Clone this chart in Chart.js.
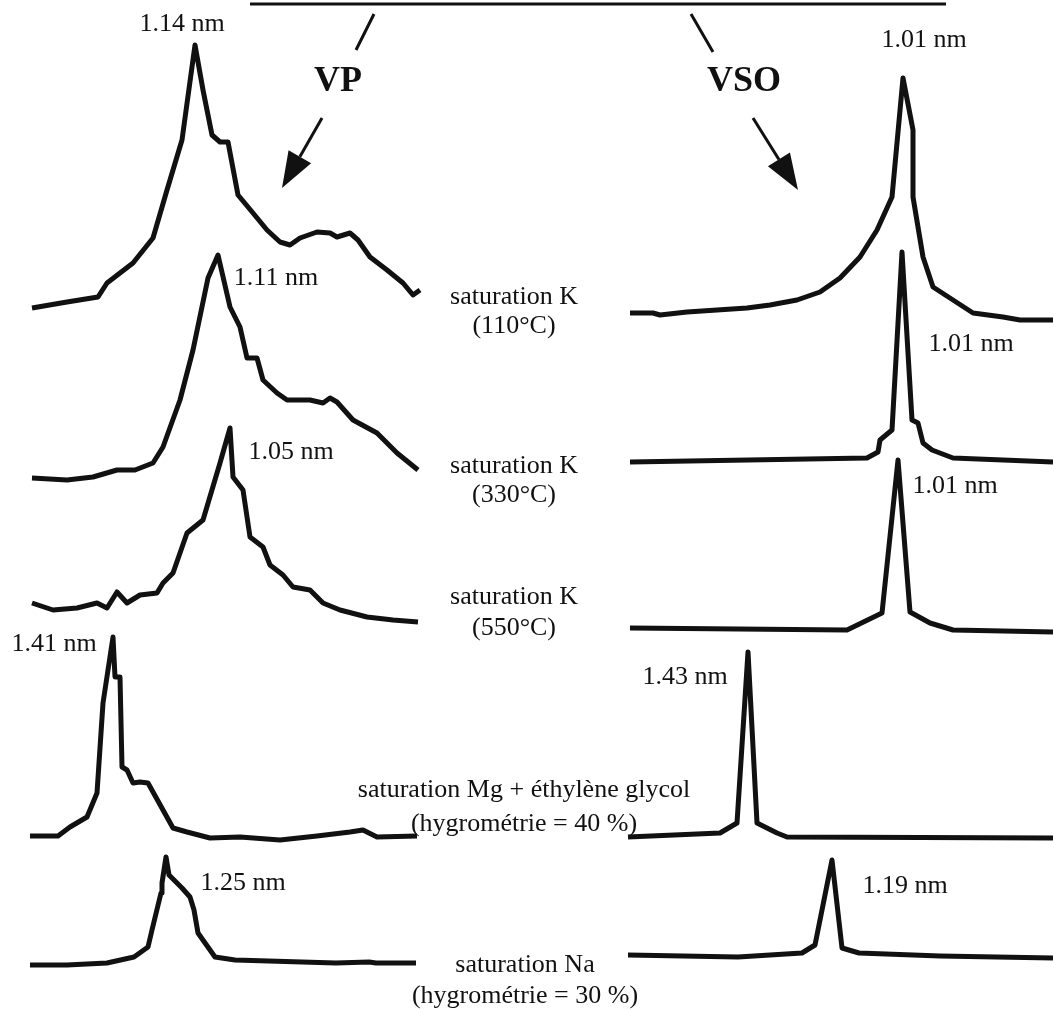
<!DOCTYPE html>
<html>
<head>
<meta charset="utf-8">
<script src="https://cdn.jsdelivr.net/npm/chart.js@4/dist/chart.umd.min.js"></script>
<style>
  html, body { margin: 0; padding: 0; background: #fff; }
  #wrap { position: relative; width: 1053px; height: 1009px; }
</style>
</head>
<body>
<div id="wrap"><canvas id="xrd"></canvas></div>
<script>
// values: 2theta (deg) and intensity above each baseline (a.u.)
// VP column
var vpK110X = [4.04, 4.74, 5.36, 5.54, 6.06, 6.46, 6.74, 7.04, 7.30, 7.46, 7.64, 7.80, 7.96, 8.16, 8.46, 8.74, 9.00, 9.20, 9.40, 9.74, 10.00, 10.14, 10.40, 10.56, 10.80, 11.14, 11.46, 11.66, 11.80];
var vpK110Y = [0, 6, 11, 25, 45, 70, 118, 168, 263, 218, 173, 166, 166, 113, 95, 78, 66, 63, 70, 76, 75, 71, 75, 68, 51, 38, 25, 13, 18];

var vpK330X = [4.04, 4.74, 5.26, 5.74, 6.10, 6.46, 6.66, 7.00, 7.26, 7.56, 7.76, 8.00, 8.20, 8.34, 8.54, 8.66, 8.94, 9.14, 9.60, 9.86, 10.00, 10.14, 10.46, 10.94, 11.34, 11.76];
var vpK330Y = [0, -2, 1, 8, 8, 15, 31, 78, 128, 200, 223, 171, 151, 120, 120, 98, 85, 78, 78, 75, 80, 76, 58, 45, 25, 8];

var vpK550X = [4.04, 4.46, 4.94, 5.34, 5.54, 5.74, 5.94, 6.20, 6.54, 6.66, 6.86, 7.14, 7.46, 7.80, 8.00, 8.06, 8.26, 8.40, 8.66, 8.80, 9.06, 9.26, 9.60, 9.86, 10.20, 10.74, 11.26, 11.76];
var vpK550Y = [0, -7, -5, 0, -5, 11, 0, 8, 10, 20, 30, 70, 83, 140, 175, 126, 113, 66, 56, 38, 28, 16, 13, 0, -7, -14, -17, -19];

var vpMgX = [4.00, 4.56, 4.80, 5.14, 5.34, 5.46, 5.66, 5.70, 5.80, 5.84, 5.94, 6.06, 6.20, 6.36, 6.86, 7.14, 7.60, 8.20, 9.00, 9.74, 10.40, 10.66, 10.94, 11.74];
var vpMgY = [0, 0, 9, 19, 43, 133, 199, 159, 159, 69, 66, 53, 54, 53, 8, 4, -2, -1, -4, 0, 4, 6, -1, 0];

var vpNaX = [4.00, 4.74, 5.54, 6.08, 6.36, 6.44, 6.62, 6.64, 6.72, 6.78, 7.04, 7.20, 7.28, 7.36, 7.70, 8.10, 9.44, 10.12, 10.78, 10.92, 11.72];
var vpNaY = [-2, -2, 0, 6, 16, 33, 70, 80, 106, 88, 75, 66, 53, 30, 6, 3, 1, 0, 1, 0, 0];

// VSO column
var vsoK110X = [4.04, 4.50, 4.64, 5.18, 6.38, 6.84, 7.38, 7.84, 8.24, 8.64, 8.98, 9.28, 9.50, 9.70, 9.70, 9.90, 10.10, 10.90, 11.50, 11.84, 12.50];
var vsoK110Y = [0, 0, -2, 1, 5, 8, 13, 21, 35, 56, 83, 116, 235, 183, 116, 56, 26, 0, -4, -7, -7];

var vsoK330X = [4.04, 8.78, 9.00, 9.04, 9.28, 9.48, 9.68, 9.80, 9.90, 10.08, 10.50, 12.50];
var vsoK330Y = [0, 4, 10, 22, 32, 210, 42, 39, 19, 12, 4, 0];

var vsoK550X = [4.04, 8.38, 9.08, 9.40, 9.64, 10.04, 10.50, 12.50];
var vsoK550Y = [2, 0, 17, 170, 18, 7, 0, -2];

var vsoMgX = [4.00, 5.84, 6.18, 6.40, 6.58, 6.98, 7.18, 12.50];
var vsoMgY = [0, 4, 14, 185, 14, 4, 0, -1];

var vsoNaX = [4.00, 6.20, 7.48, 7.74, 8.08, 8.28, 8.62, 10.24, 12.50];
var vsoNaY = [1, -1, 3, 11, 96, 8, 3, 0, -2];

var peakLabels = ["1.14 nm", "1.11 nm", "1.05 nm", "1.41 nm", "1.25 nm",
                  "1.01 nm", "1.01 nm", "1.01 nm", "1.43 nm", "1.19 nm"];
var treatments = [
  ["saturation K", "(110°C)"],
  ["saturation K", "(330°C)"],
  ["saturation K", "(550°C)"],
  ["saturation Mg + éthylène glycol", "(hygrométrie = 40 %)"],
  ["saturation Na", "(hygrométrie = 30 %)"]
];

// stacking offsets of each diffractogram and where the text goes (pixels)
var vpOffsets = [701, 531, 406, 173, 46];
var vsoOffsets = [696, 547, 379, 172, 53];
var labelShift = [[-13, -21], [58, 23], [61, 24], [-59, 7], [77, 26],
                  [21, -38], [69, 92], [57, 26], [-63, 25], [73, 26]];
var treatmentPos = [[514, 297, 326], [514, 466, 495], [514, 597, 628], [524, 790, 824], [525, 965, 996]];

var serif = '"Liberation Serif", "DejaVu Serif", serif';

function trace(xs, ys, offset, axis) {
  return {
    data: xs.map(function (x, i) { return { x: x, y: ys[i] + offset }; }),
    xAxisID: axis,
    yAxisID: "y",
    borderColor: "#111",
    borderWidth: 5,
    borderJoinStyle: "round",
    borderCapStyle: "butt",
    pointRadius: 0,
    tension: 0,
    fill: false
  };
}

var datasets = [
  trace(vpK110X, vpK110Y, vpOffsets[0], "xL"),
  trace(vpK330X, vpK330Y, vpOffsets[1], "xL"),
  trace(vpK550X, vpK550Y, vpOffsets[2], "xL"),
  trace(vpMgX, vpMgY, vpOffsets[3], "xL"),
  trace(vpNaX, vpNaY, vpOffsets[4], "xL"),
  trace(vsoK110X, vsoK110Y, vsoOffsets[0], "xR"),
  trace(vsoK330X, vsoK330Y, vsoOffsets[1], "xR"),
  trace(vsoK550X, vsoK550Y, vsoOffsets[2], "xR"),
  trace(vsoMgX, vsoMgY, vsoOffsets[3], "xR"),
  trace(vsoNaX, vsoNaY, vsoOffsets[4], "xR")
];

function arrow(ctx, x1, y1, x2, y2, head, half) {
  var dx = x2 - x1, dy = y2 - y1, len = Math.sqrt(dx * dx + dy * dy);
  var ux = dx / len, uy = dy / len;
  var bx = x2 - ux * head, by = y2 - uy * head;
  ctx.beginPath();
  ctx.moveTo(x1, y1);
  ctx.lineTo(bx, by);
  ctx.stroke();
  ctx.beginPath();
  ctx.moveTo(x2, y2);
  ctx.lineTo(bx - uy * half, by + ux * half);
  ctx.lineTo(bx + uy * half, by - ux * half);
  ctx.closePath();
  ctx.fill();
}

var figureText = {
  id: "figureText",
  afterDatasetsDraw: function (chart) {
    var ctx = chart.ctx;
    ctx.save();
    ctx.fillStyle = "#111";
    ctx.strokeStyle = "#111";

    // header rule, split strokes and arrows
    ctx.lineWidth = 3;
    ctx.beginPath();
    ctx.moveTo(250, 4); ctx.lineTo(946, 4);
    ctx.moveTo(374, 14); ctx.lineTo(356, 50);
    ctx.moveTo(691, 14); ctx.lineTo(713, 52);
    ctx.stroke();
    arrow(ctx, 322, 118, 282, 188, 36, 13);
    arrow(ctx, 753, 118, 798, 190, 36, 13);

    ctx.textAlign = "center";
    ctx.textBaseline = "middle";
    ctx.font = "bold 36px " + serif;
    ctx.fillText("VP", 338, 82);
    ctx.fillText("VSO", 744, 82);

    // d-spacing next to the top of each peak
    ctx.font = "26px " + serif;
    chart.data.datasets.forEach(function (ds, i) {
      var pts = chart.getDatasetMeta(i).data;
      var top = pts[0];
      pts.forEach(function (p) { if (p.y < top.y) top = p; });
      ctx.fillText(peakLabels[i], top.x + labelShift[i][0], top.y + labelShift[i][1]);
    });

    treatments.forEach(function (t, i) {
      var p = treatmentPos[i];
      ctx.fillText(t[0], p[0], p[1]);
      ctx.fillText(t[1], p[0], p[2]);
    });
    ctx.restore();
  }
};

new Chart(document.getElementById("xrd"), {
  type: "line",
  data: { datasets: datasets },
  options: {
    responsive: true,
    maintainAspectRatio: false,
    animation: false,
    layout: { padding: 0 },
    plugins: { legend: { display: false }, tooltip: { enabled: false } },
    elements: { line: { clip: false } },
    scales: {
      xL: { type: "linear", display: false, min: 3.4, max: 24.46 },
      xR: { type: "linear", display: false, min: -8.56, max: 12.5 },
      y: { type: "linear", display: false, min: 0, max: 1009 }
    }
  },
  plugins: [figureText]
});
</script>
</body>
</html>
